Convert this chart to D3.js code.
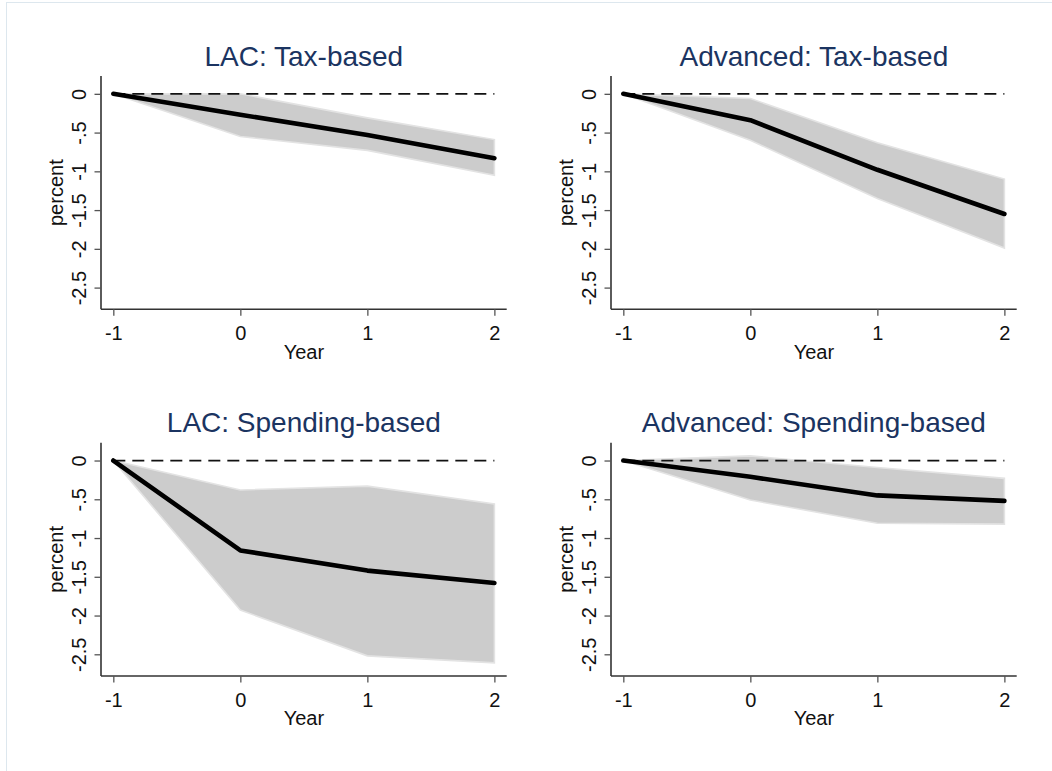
<!DOCTYPE html>
<html>
<head>
<meta charset="utf-8">
<script src="https://cdn.jsdelivr.net/npm/d3@7"></script>
<style>
  html, body { margin: 0; padding: 0; background: #fff; }
  svg { display: block; font-family: "Liberation Sans", Arial, sans-serif; }
</style>
</head>
<body>
<svg id="chart" width="1052" height="771"></svg>
<script>
// Horizon (years relative to consolidation)
const years = [-1, 0, 1, 2];
const yTicks = [0, -0.5, -1, -1.5, -2, -2.5];
const yTickLabels = ["0", "-.5", "-1", "-1.5", "-2", "-2.5"];
const xTicks = [-1, 0, 1, 2];
const xTickLabels = ["-1", "0", "1", "2"];

const panelTitles = ["LAC: Tax-based", "Advanced: Tax-based", "LAC: Spending-based", "Advanced: Spending-based"];

// Point estimates (percent)
const lacTaxMean = [0, -0.27, -0.53, -0.83];
const advTaxMean = [0, -0.34, -0.98, -1.55];
const lacSpendMean = [0, -1.16, -1.42, -1.58];
const advSpendMean = [0, -0.21, -0.45, -0.52];

// Confidence band upper bounds
const lacTaxUpper = [0, 0.0, -0.31, -0.59];
const advTaxUpper = [0, -0.06, -0.63, -1.10];
const lacSpendUpper = [0, -0.38, -0.33, -0.56];
const advSpendUpper = [0, 0.06, -0.09, -0.23];

// Confidence band lower bounds
const lacTaxLower = [0, -0.55, -0.73, -1.05];
const advTaxLower = [0, -0.60, -1.35, -1.99];
const lacSpendLower = [0, -1.93, -2.52, -2.61];
const advSpendLower = [0, -0.51, -0.81, -0.82];

const panels = [
  { title: panelTitles[0], mean: lacTaxMean, upper: lacTaxUpper, lower: lacTaxLower, col: 0, row: 0 },
  { title: panelTitles[1], mean: advTaxMean, upper: advTaxUpper, lower: advTaxLower, col: 1, row: 0 },
  { title: panelTitles[2], mean: lacSpendMean, upper: lacSpendUpper, lower: lacSpendLower, col: 0, row: 1 },
  { title: panelTitles[3], mean: advSpendMean, upper: advSpendUpper, lower: advSpendLower, col: 1, row: 1 }
];

const svg = d3.select("#chart");

// faint outer frame
svg.append("rect")
  .attr("x", 6.5).attr("y", 2.5)
  .attr("width", 1100).attr("height", 800)
  .attr("fill", "none")
  .attr("stroke", "#dde7ee")
  .attr("stroke-width", 1);

const plotW = 405.7, plotH = 233.3;
const colLeft = [101, 611];
const rowTop = [76, 442.7];

const titleColor = "#1b3461";
const axisColor = "#333333";
const labelSize = 20;

panels.forEach(p => {
  const x0 = colLeft[p.col], y0 = rowTop[p.row];
  const g = svg.append("g").attr("transform", `translate(${x0},${y0})`);

  const x = d3.scaleLinear().domain([-1.097, 2.097]).range([0, plotW]);
  const y = d3.scaleLinear().domain([-2.78, 0.23]).range([plotH, 0]);

  const rows = years.map((yr, i) => ({ yr, m: p.mean[i], hi: p.upper[i], lo: p.lower[i] }));

  // confidence band
  g.append("path")
    .datum(rows)
    .attr("d", d3.area().x(d => x(d.yr)).y0(d => y(d.lo)).y1(d => y(d.hi)))
    .attr("fill", "#cccccc")
    .attr("stroke", "#e3e3e3")
    .attr("stroke-width", 1.6);

  // zero reference line
  g.append("line")
    .attr("x1", x(-1)).attr("x2", x(2))
    .attr("y1", y(0)).attr("y2", y(0))
    .attr("stroke", "#111")
    .attr("stroke-width", 1.8)
    .attr("stroke-dasharray", "12,7");

  // point-estimate line
  g.append("path")
    .datum(rows)
    .attr("d", d3.line().x(d => x(d.yr)).y(d => y(d.m)))
    .attr("fill", "none")
    .attr("stroke", "#000")
    .attr("stroke-width", 4.6)
    .attr("stroke-linecap", "round")
    .attr("stroke-linejoin", "round");

  // y axis
  const yAxis = g.append("g")
    .call(d3.axisLeft(y).tickValues(yTicks).tickSize(6.5).tickFormat((d, i) => yTickLabels[i]));
  yAxis.select(".domain").attr("stroke", axisColor).attr("stroke-width", 1.6).attr("d", `M0,0V${plotH}`);
  yAxis.selectAll(".tick line").attr("stroke", "#555").attr("stroke-width", 1.3);
  yAxis.selectAll(".tick text")
    .attr("fill", "#111")
    .attr("font-size", labelSize)
    .attr("x", null).attr("dy", null)
    .attr("text-anchor", "middle")
    .attr("transform", "translate(-15,0) rotate(-90)");

  // x axis
  const xAxis = g.append("g")
    .attr("transform", `translate(0,${plotH})`)
    .call(d3.axisBottom(x).tickValues(xTicks).tickSize(6.5).tickFormat((d, i) => xTickLabels[i]));
  xAxis.select(".domain").attr("stroke", axisColor).attr("stroke-width", 1.6).attr("d", `M0,0H${plotW}`);
  xAxis.selectAll(".tick line").attr("stroke", "#555").attr("stroke-width", 1.3);
  xAxis.selectAll(".tick text")
    .attr("fill", "#111")
    .attr("font-size", labelSize)
    .attr("y", 30.5).attr("dy", null);

  // axis titles
  g.append("text")
    .attr("x", plotW / 2).attr("y", plotH + 49.5)
    .attr("text-anchor", "middle")
    .attr("font-size", labelSize)
    .attr("fill", "#111")
    .text("Year");

  g.append("text")
    .attr("transform", `translate(-38.5,${plotH / 2}) rotate(-90)`)
    .attr("text-anchor", "middle")
    .attr("font-size", labelSize)
    .attr("fill", "#111")
    .text("percent");

  // panel title
  g.append("text")
    .attr("x", plotW / 2).attr("y", -10.3)
    .attr("text-anchor", "middle")
    .attr("font-size", 28)
    .attr("fill", titleColor)
    .text(p.title);
});
</script>
</body>
</html>
